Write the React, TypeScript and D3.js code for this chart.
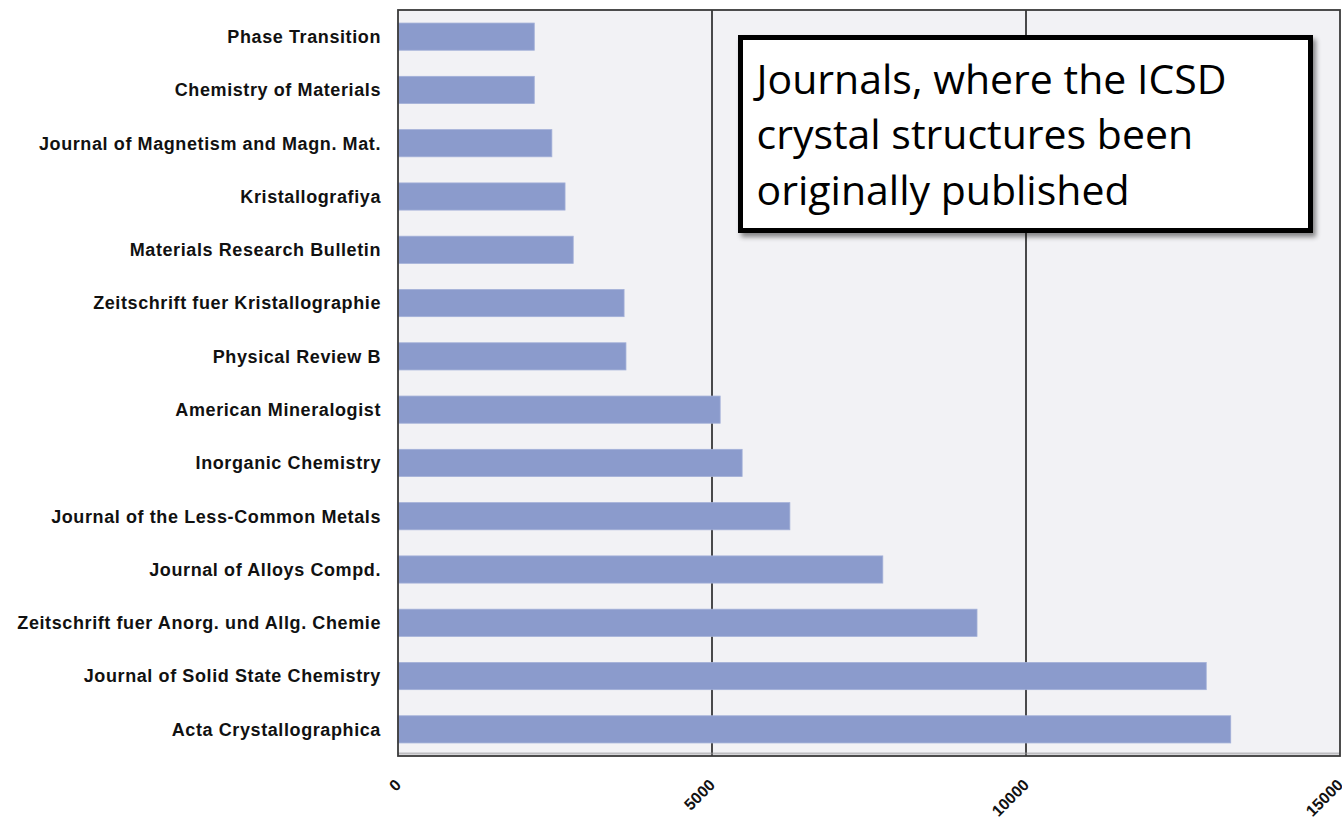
import React from "react";
import * as d3 from "d3";

// journals, top to bottom as shown
const journals = [
  "Phase Transition",
  "Chemistry of Materials",
  "Journal of Magnetism and Magn. Mat.",
  "Kristallografiya",
  "Materials Research Bulletin",
  "Zeitschrift fuer Kristallographie",
  "Physical Review B",
  "American Mineralogist",
  "Inorganic Chemistry",
  "Journal of the Less-Common Metals",
  "Journal of Alloys Compd.",
  "Zeitschrift fuer Anorg. und Allg. Chemie",
  "Journal of Solid State Chemistry",
  "Acta Crystallographica",
];

// number of structures per journal
const counts = [2170, 2170, 2450, 2660, 2790, 3600, 3630, 5130, 5480, 6240, 7720, 9220, 12870, 13260];

const xTicks = [0, 5000, 10000, 15000];

const noteLines = ["Journals, where the ICSD", "crystal structures been", "originally published"];

const W = 1342;
const H = 822;
const margin = { top: 10, right: 2, bottom: 66, left: 398 };

const App: React.FC = () => {
  const plotW = W - margin.left - margin.right;
  const plotH = H - margin.top - margin.bottom;

  const x = d3.scaleLinear().domain([0, 15000]).range([0, plotW]);
  const y = d3.scaleBand<string>().domain(journals).range([0, plotH]).paddingInner(0.49).paddingOuter(0.245);

  return (
    <svg
      width={W}
      height={H}
      style={{ position: "absolute", left: 0, top: 0, background: "#fff" }}
      fontFamily="'Liberation Sans', Arial, sans-serif"
    >
      <defs>
        <filter id="shadow" x="-5%" y="-5%" width="115%" height="120%">
          <feDropShadow dx="3" dy="4" stdDeviation="2.5" floodColor="#000" floodOpacity="0.45" />
        </filter>
      </defs>
      <g transform={`translate(${margin.left},${margin.top})`}>
        <rect width={plotW} height={plotH} fill="#f2f2f5" />
        {xTicks.slice(1, -1).map((t) => (
          <line key={t} x1={x(t)} x2={x(t)} y1={0} y2={plotH} stroke="#111" strokeWidth={1.5} />
        ))}
        {journals.map((j, i) => (
          <rect
            key={j}
            x={0}
            y={y(j)}
            width={x(counts[i])}
            height={y.bandwidth()}
            fill="#8b9bcc"
            stroke="#a3b0d8"
            strokeWidth={0.8}
          />
        ))}
        {/* frame with a soft inner shadow along the bottom */}
        <line x1={0} x2={plotW} y1={plotH - 2.5} y2={plotH - 2.5} stroke="#9a9a9e" strokeWidth={2} opacity={0.6} />
        <rect width={plotW} height={plotH} fill="none" stroke="#3a3a3a" strokeWidth={1.8} />

        {journals.map((j) => (
          <text
            key={j}
            x={-17}
            y={(y(j) ?? 0) + y.bandwidth() / 2}
            dy="0.35em"
            textAnchor="end"
            fontSize={18}
            letterSpacing={0.6}
            fontWeight="bold"
            fill="#111"
          >
            {j}
          </text>
        ))}

        {xTicks.map((t) => (
          <text
            key={t}
            transform={`translate(${x(t) + 4},${plotH + 30}) rotate(-45)`}
            textAnchor="end"
            fontSize={16}
            fontWeight="bold"
            fill="#111"
          >
            {t}
          </text>
        ))}
      </g>

      <g transform="translate(740.5,37.5)">
        <rect width={570} height={193} fill="#fff" stroke="#000" strokeWidth={5} filter="url(#shadow)" />
        {noteLines.map((l, i) => (
          <text
            key={l}
            x={16}
            y={56 + i * 55.5}
            fontFamily="'Open Sans', 'Noto Sans', sans-serif"
            fontSize={41}
            fill="#000"
          >
            {l}
          </text>
        ))}
      </g>
    </svg>
  );
};

export default App;
